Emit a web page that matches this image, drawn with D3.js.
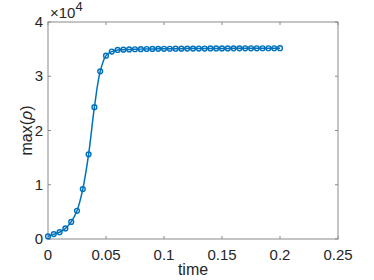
<!DOCTYPE html>
<html><head><meta charset="utf-8">
<script src="https://cdn.jsdelivr.net/npm/d3@7"></script>
<style>body{margin:0;background:#fff}svg{display:block}text{font-family:"Liberation Sans",Arial,sans-serif;fill:#262626}</style>
</head><body>
<script>
const times = d3.range(0, 41).map(i => +(i * 0.005).toFixed(3));
const maxRho = [480, 900, 1250, 1950, 3150, 5200, 9200, 15600, 24300, 30900, 33800, 34550, 34850, 34900, 34950, 34980, 35000, 35020, 35040, 35050,
  35060, 35070, 35080, 35090, 35100, 35100, 35110, 35110, 35120, 35120, 35130, 35130, 35140, 35140, 35150, 35150, 35150, 35160, 35160, 35160, 35170];
const xTicks = [0, 0.05, 0.1, 0.15, 0.2, 0.25];
const xTickLabels = ["0", "0.05", "0.1", "0.15", "0.2", "0.25"];
const yTicks = [0, 10000, 20000, 30000, 40000];
const yTickLabels = ["0", "1", "2", "3", "4"];

const W = 374, H = 280;
const m = {l: 48, r: 36, t: 22, b: 41};
const svg = d3.select("body").append("svg").attr("width", W).attr("height", H);
const x = d3.scaleLinear().domain([0, 0.25]).range([m.l, W - m.r]);
const y = d3.scaleLinear().domain([0, 40000]).range([H - m.b, m.t]);
const col = "#0072BD", tl = 3;

// box
svg.append("rect").attr("x", m.l).attr("y", m.t).attr("width", W - m.r - m.l).attr("height", H - m.b - m.t)
  .attr("fill", "none").attr("stroke", "#8a8a8a").attr("stroke-width", 1);

// ticks (inside)
const g = svg.append("g").attr("stroke", "#8a8a8a").attr("stroke-width", 1);
xTicks.forEach(t => {
  g.append("line").attr("x1", x(t)).attr("x2", x(t)).attr("y1", y(0)).attr("y2", y(0) - tl);
  g.append("line").attr("x1", x(t)).attr("x2", x(t)).attr("y1", y(40000)).attr("y2", y(40000) + tl);
});
yTicks.forEach(t => {
  g.append("line").attr("y1", y(t)).attr("y2", y(t)).attr("x1", x(0)).attr("x2", x(0) + tl);
  g.append("line").attr("y1", y(t)).attr("y2", y(t)).attr("x1", x(0.25)).attr("x2", x(0.25) - tl);
});

// tick labels
xTicks.forEach((t, i) => {
  svg.append("text").attr("x", x(t)).attr("y", y(0) + 21).attr("text-anchor", "middle")
    .attr("font-size", 15).text(xTickLabels[i]);
});
yTicks.forEach((t, i) => {
  svg.append("text").attr("x", x(0) - 5).attr("y", y(t) + 5).attr("text-anchor", "end")
    .attr("font-size", 15).text(yTickLabels[i]);
});

// exponent
const ex = svg.append("text").attr("x", m.l + 2).attr("y", 18).attr("font-size", 15);
ex.append("tspan").text("×10");
ex.append("tspan").attr("dy", -7).attr("font-size", 13).text("4");

// axis labels
svg.append("text").attr("x", (x(0) + x(0.25)) / 2).attr("y", 275).attr("text-anchor", "middle")
  .attr("font-size", 16).text("time");
const yl = svg.append("text").attr("transform", `translate(32,${(y(0) + y(40000)) / 2}) rotate(-90)`)
  .attr("text-anchor", "middle").attr("font-size", 16);
yl.append("tspan").text("max(");
yl.append("tspan").attr("font-style", "italic").text("ρ");
yl.append("tspan").text(")");

// data
const pts = times.map((t, i) => [t, maxRho[i]]);
svg.append("path").datum(pts).attr("fill", "none").attr("stroke", col).attr("stroke-width", 1.5)
  .attr("d", d3.line().x(d => x(d[0])).y(d => y(d[1])).curve(d3.curveCatmullRom));
svg.selectAll("circle.pt").data(pts).enter().append("circle").attr("class", "pt")
  .attr("cx", d => x(d[0])).attr("cy", d => y(d[1])).attr("r", 2.4)
  .attr("fill", "none").attr("stroke", col).attr("stroke-width", 1.4);
</script>
</body></html>
